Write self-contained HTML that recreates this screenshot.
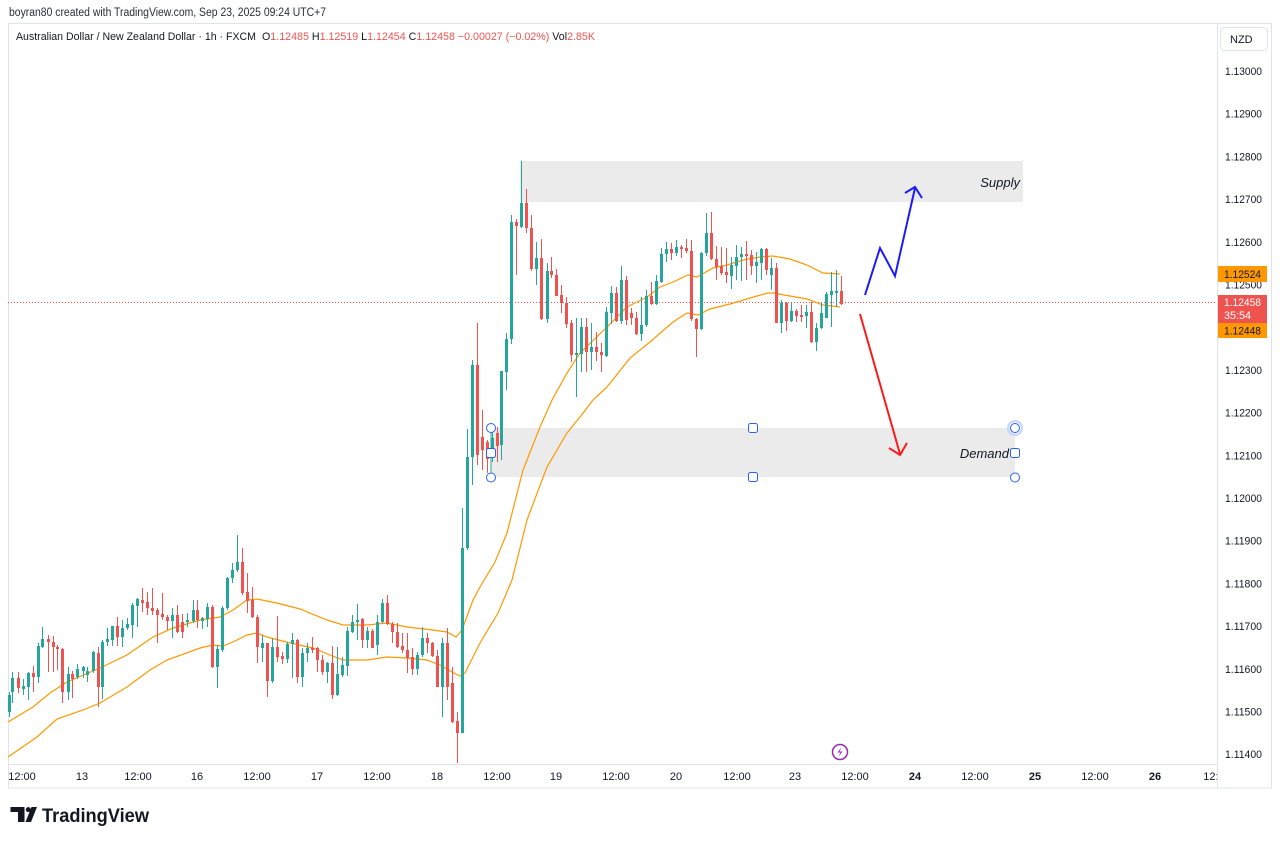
<!DOCTYPE html>
<html>
<head>
<meta charset="utf-8">
<style>
  html,body{margin:0;padding:0;background:#fff;}
  body{width:1280px;height:841px;overflow:hidden;}
  svg{display:block;}
  text{font-family:"Liberation Sans", Arial, sans-serif;}
</style>
</head>
<body>
<svg width="1280" height="841" viewBox="0 0 1280 841" xmlns="http://www.w3.org/2000/svg">
  <rect x="0" y="0" width="1280" height="841" fill="#ffffff"/>

  <!-- header -->
  <text x="9" y="16" font-size="11.5" fill="#2a2e39" textLength="317" lengthAdjust="spacingAndGlyphs">boyran80 created with TradingView.com, Sep 23, 2025 09:24 UTC+7</text>

  <!-- frame -->
  <rect x="8.5" y="23.5" width="1263" height="764.5" fill="none" stroke="#e0e3eb" stroke-width="1"/>
  <line x1="1217.5" y1="24" x2="1217.5" y2="788" stroke="#e0e3eb" stroke-width="1"/>
  <line x1="8" y1="764.5" x2="1217" y2="764.5" stroke="#e0e3eb" stroke-width="1"/>

  <!-- legend -->
  <text x="16" y="40" font-size="11" fill="#131722" textLength="240" lengthAdjust="spacingAndGlyphs">Australian Dollar / New Zealand Dollar · 1h · FXCM</text>
  <text x="262" y="40" font-size="11" fill="#131722" textLength="333" lengthAdjust="spacingAndGlyphs">O<tspan fill="#ef5350">1.12485</tspan>  H<tspan fill="#ef5350">1.12519</tspan>  L<tspan fill="#ef5350">1.12454</tspan>  C<tspan fill="#ef5350">1.12458</tspan>  <tspan fill="#ef5350">−0.00027 (−0.02%)</tspan>  Vol<tspan fill="#ef5350">2.85K</tspan></text>

  <!-- zones -->
  <rect x="520" y="161" width="503" height="41" fill="#ebebeb"/>
  <rect x="491" y="428" width="524" height="49" fill="#ebebeb"/>
  <text x="1020" y="187" font-size="13" font-style="italic" fill="#131722" text-anchor="end">Supply</text>
  <text x="1009" y="458" font-size="13" font-style="italic" fill="#131722" text-anchor="end">Demand</text>

  <!-- current price line -->
  <line x1="8" y1="302.5" x2="1217" y2="302.5" stroke="#ef5350" stroke-width="1" stroke-dasharray="1,2"/>

  <!-- moving averages -->
  <polyline fill="none" stroke="#ff9800" stroke-width="1.2" points="8,722 33,707 50,693 67,682 100,668 127,655 153,637 173,628 200,620 220,617 233,610 247,600 257,599 277,603 300,609 327,620 343,625 367,625 387,623 407,627 433,630 447,632 456,637 462,630 473,600 480,587 495,562 507,533 523,470 540,427 552,400 567,373 580,353 607,327 627,307 647,297 660,287 673,282 688,275 697,277 713,268 727,265 743,260 760,257 773,256 790,259 807,265 823,273 840,274"/>
  <polyline fill="none" stroke="#ff9800" stroke-width="1.2" points="8,757 37,737 57,719 83,710 100,703 127,687 150,670 167,660 200,648 213,645 223,646 233,642 247,635 257,633 267,637 290,643 313,648 330,655 343,660 367,660 387,657 407,658 427,660 440,665 452,672 460,676 465,673 480,643 498,613 512,580 527,520 547,467 567,433 580,417 593,400 607,387 630,358 650,342 673,322 687,313 698,315 710,309 730,304 750,298 768,293 773,293 790,296 807,299 823,305 840,307"/>

  <!-- candles: green -->
  <path fill="none" stroke="#26a69a" stroke-width="1" d="M9.5 692V717M12.5 672V703M23.5 679V695M28.5 672V700M38.5 643V683M42.5 627V648M68.5 667V700M77.5 664V679M83.5 666V678M87.5 667V682M93.5 651V673M102.5 640V699M107.5 628V646M112.5 626V646M122.5 620V647M127.5 618V630M132.5 603V638M137.5 598V627M172.5 608V638M187.5 613V627M193.5 600V623M202.5 617V629M207.5 603V627M217.5 645V688M222.5 606V652M227.5 577V610M232.5 563V583M237.5 535V572M262.5 635V662M272.5 638V683M287.5 642V663M292.5 633V678M302.5 648V687M307.5 643V662M327.5 662V683M337.5 647V696M342.5 657V677M347.5 627V676M352.5 615V633M357.5 604V640M367.5 627V648M377.5 615V655M382.5 599V623M417.5 652V675M422.5 627V657M442.5 638V717M462.5 508V733M467.5 429V550M472.5 360V485M492.5 430V462M501.5 371V460M506.5 333V390M511.5 215V344M521.5 161V228M536.5 242V285M547.5 263V323M576.5 318V397M581.5 318V372M591.5 323V370M606.5 307V357M611.5 286V324M621.5 266V324M641.5 297V341M646.5 290V327M656.5 275V305M661.5 248V283M666.5 242V262M676.5 240V256M701.5 252V330M706.5 213V256M731.5 257V289M736.5 245V280M741.5 247V281M756.5 252V283M761.5 248V280M771.5 258V290M781.5 300V333M791.5 303V322M806.5 305V328M816.5 323V351M821.5 303V329M826.5 292V318M831.5 272V327M836.5 270V307"/>
  <path fill="none" stroke="#26a69a" stroke-width="3" d="M9.5 695V712M12.5 678V692M23.5 686V689M28.5 673V687M38.5 646V677M42.5 639V647M68.5 674V692M77.5 669V677M83.5 667V671M87.5 671V675M93.5 652V671M102.5 642V687M107.5 639V642M112.5 626V640M122.5 628V637M127.5 624V628M132.5 605V625M137.5 599V606M172.5 615V621M187.5 620V622M193.5 610V621M202.5 618V621M207.5 607V619M217.5 649V667M222.5 608V650M227.5 578V608M232.5 570V578M237.5 562V570M262.5 643V648M272.5 647V681M287.5 644V659M292.5 640V644M302.5 653V677M307.5 648V653M327.5 663V672M337.5 674V695M342.5 665V675M347.5 631V666M352.5 622V632M357.5 620V622M367.5 631V640M377.5 622V645M382.5 603V622M417.5 655V669M422.5 638V655M442.5 643V687M462.5 548V733M467.5 457V548M472.5 365V457M492.5 438V450M501.5 371V445M506.5 339V372M511.5 222V339M521.5 203V227M536.5 258V269M547.5 271V319M576.5 353V355M581.5 327V354M591.5 347V352M606.5 312V356M611.5 293V313M621.5 280V321M641.5 325V334M646.5 296V325M656.5 281V304M661.5 254V282M666.5 249V254M676.5 247V253M701.5 253V329M706.5 233V253M731.5 265V276M736.5 257V266M741.5 254V257M756.5 262V266M761.5 249V263M771.5 268V275M781.5 303V323M791.5 311V321M806.5 312V316M816.5 328V342M821.5 313V328M826.5 294V318M831.5 291V295M836.5 291V293"/>

  <!-- candles: red -->
  <path fill="none" stroke="#ef5350" stroke-width="1" d="M18.5 672V693M33.5 666V692M48.5 635V672M53.5 636V672M57.5 645V670M62.5 648V703M72.5 671V698M98.5 647V707M117.5 617V646M142.5 588V612M147.5 592V615M152.5 588V615M157.5 608V643M162.5 593V620M167.5 615V630M177.5 605V633M182.5 614V638M197.5 600V628M212.5 605V668M242.5 548V595M247.5 573V613M252.5 587V618M257.5 615V663M267.5 643V697M277.5 616V662M282.5 652V664M297.5 639V683M312.5 637V653M317.5 647V672M322.5 655V675M332.5 646V699M362.5 618V648M372.5 629V648M387.5 595V625M392.5 622V643M397.5 623V648M402.5 633V653M407.5 633V673M412.5 648V675M427.5 633V653M432.5 642V657M437.5 650V687M447.5 628V700M452.5 667V723M457.5 712V763M477.5 323V465M482.5 410V470M487.5 440V473M497.5 427V462M516.5 219V275M526.5 189V233M531.5 215V271M541.5 239V320M551.5 257V278M556.5 269V296M561.5 285V313M566.5 297V328M571.5 320V362M586.5 318V372M596.5 332V361M601.5 343V372M616.5 287V322M626.5 276V325M631.5 308V325M636.5 312V335M651.5 282V305M671.5 243V260M681.5 245V258M686.5 239V253M691.5 240V321M696.5 318V357M711.5 212V260M716.5 246V280M721.5 247V275M726.5 248V283M746.5 241V280M751.5 250V275M766.5 248V275M776.5 263V323M786.5 302V331M796.5 309V322M801.5 305V322M811.5 302V343M841.5 276V305"/>
  <path fill="none" stroke="#ef5350" stroke-width="3" d="M18.5 678V688M33.5 673V677M48.5 639V642M53.5 642V647M57.5 647V649M62.5 649V692M72.5 674V679M98.5 653V687M117.5 626V637M142.5 600V603M147.5 602V608M152.5 608V611M157.5 610V615M162.5 614V617M167.5 617V621M177.5 615V632M182.5 622V632M197.5 610V620M212.5 607V667M242.5 562V593M247.5 592V601M252.5 600V617M257.5 617V647M267.5 643V681M277.5 647V657M282.5 656V659M297.5 640V677M312.5 648V650M317.5 648V660M322.5 660V672M332.5 663V695M362.5 619V640M372.5 631V648M387.5 603V624M392.5 624V632M397.5 632V647M402.5 646V650M407.5 650V658M412.5 657V669M427.5 638V643M432.5 643V656M437.5 656V687M447.5 643V687M452.5 683V722M457.5 721V733M477.5 365V455M482.5 437V450M487.5 442V459M497.5 433V446M516.5 222V226M526.5 203V228M531.5 228V269M541.5 258V319M551.5 271V275M556.5 275V296M561.5 295V303M566.5 303V324M571.5 323V355M586.5 327V352M596.5 347V352M601.5 352V355M616.5 293V321M626.5 280V320M631.5 313V318M636.5 318V334M651.5 296V304M671.5 249V253M681.5 247V249M686.5 248V251M691.5 251V319M696.5 319V329M711.5 233V259M716.5 259V267M721.5 266V273M726.5 272V275M746.5 254V256M751.5 255V266M766.5 249V270M776.5 268V323M786.5 303V321M796.5 311V316M801.5 315V317M811.5 312V342M841.5 291V304"/>

  <!-- arrows -->
  <polyline fill="none" stroke="#1a1aff" stroke-width="2" stroke-linejoin="miter" points="865,295 880,248 895,276 915,188"/>
  <polyline fill="none" stroke="#1a1aff" stroke-width="2" points="905,193 915,187 922,198"/>
  <line x1="860" y1="314" x2="900" y2="454" stroke="#ff1a1a" stroke-width="2"/>
  <polyline fill="none" stroke="#ff1a1a" stroke-width="2" points="889,448 900,455 907,443"/>

  <!-- demand handles -->
  <g fill="#ffffff" stroke="#2962ff" stroke-width="1">
    <line x1="491" y1="428" x2="491" y2="477" stroke="#26a69a"/>
    <circle cx="491" cy="428" r="4.5"/>
    <rect x="486.5" y="448.5" width="9" height="9" rx="2"/>
    <circle cx="491" cy="477.5" r="4.5"/>
    <rect x="748.5" y="423.5" width="9" height="9" rx="2"/>
    <rect x="748.5" y="472.5" width="9" height="9" rx="2"/>
    <circle cx="1015" cy="428" r="7" fill="none" stroke="#c5d3ff" stroke-width="2"/>
    <circle cx="1015" cy="428" r="4.5"/>
    <rect x="1010.5" y="448.5" width="9" height="9" rx="2"/>
    <circle cx="1015" cy="477.5" r="4.5"/>
  </g>

  <!-- lightning icon -->
  <circle cx="840" cy="752" r="7.5" fill="#ffffff" stroke="#9c27b0" stroke-width="1.5"/>
  <path d="M841.5 747 L837.5 752.5 L840.5 752.5 L838.5 757 L842.5 751.5 L839.5 751.5 Z" fill="#9c27b0"/>

  <!-- price axis -->
  <rect x="1220.5" y="27.5" width="47" height="23" rx="4" fill="#ffffff" stroke="#e0e3eb"/>
  <text x="1230" y="43" font-size="11" fill="#131722">NZD</text>
  <g font-size="11" fill="#131722">
    <text x="1225" y="75" textLength="37" lengthAdjust="spacingAndGlyphs">1.13000</text>
    <text x="1225" y="117.7" textLength="37" lengthAdjust="spacingAndGlyphs">1.12900</text>
    <text x="1225" y="160.4" textLength="37" lengthAdjust="spacingAndGlyphs">1.12800</text>
    <text x="1225" y="203.1" textLength="37" lengthAdjust="spacingAndGlyphs">1.12700</text>
    <text x="1225" y="245.8" textLength="37" lengthAdjust="spacingAndGlyphs">1.12600</text>
    <text x="1225" y="288.5" textLength="37" lengthAdjust="spacingAndGlyphs">1.12500</text>
    <text x="1225" y="373.9" textLength="37" lengthAdjust="spacingAndGlyphs">1.12300</text>
    <text x="1225" y="416.6" textLength="37" lengthAdjust="spacingAndGlyphs">1.12200</text>
    <text x="1225" y="459.3" textLength="37" lengthAdjust="spacingAndGlyphs">1.12100</text>
    <text x="1225" y="502" textLength="37" lengthAdjust="spacingAndGlyphs">1.12000</text>
    <text x="1225" y="544.7" textLength="37" lengthAdjust="spacingAndGlyphs">1.11900</text>
    <text x="1225" y="587.4" textLength="37" lengthAdjust="spacingAndGlyphs">1.11800</text>
    <text x="1225" y="630.1" textLength="37" lengthAdjust="spacingAndGlyphs">1.11700</text>
    <text x="1225" y="672.8" textLength="37" lengthAdjust="spacingAndGlyphs">1.11600</text>
    <text x="1225" y="715.5" textLength="37" lengthAdjust="spacingAndGlyphs">1.11500</text>
    <text x="1225" y="758.2" textLength="37" lengthAdjust="spacingAndGlyphs">1.11400</text>
  </g>
  <!-- price tags -->
  <rect x="1218" y="266" width="49" height="16" fill="#ff9800"/>
  <text x="1224" y="278" font-size="11" fill="#131722" textLength="37" lengthAdjust="spacingAndGlyphs">1.12524</text>
  <rect x="1218" y="295" width="49" height="28" fill="#ef5350"/>
  <text x="1224" y="306" font-size="11" fill="#ffffff" textLength="37" lengthAdjust="spacingAndGlyphs">1.12458</text>
  <text x="1224" y="319" font-size="11" fill="#ffffff" textLength="27" lengthAdjust="spacingAndGlyphs">35:54</text>
  <rect x="1218" y="323" width="49" height="15" fill="#ff9800"/>
  <text x="1224" y="334.5" font-size="11" fill="#131722" textLength="37" lengthAdjust="spacingAndGlyphs">1.12448</text>

  <!-- time axis -->
  <defs><clipPath id="tclip"><rect x="8" y="765" width="1209" height="23"/></clipPath></defs>
  <g font-size="11" fill="#131722" text-anchor="middle" clip-path="url(#tclip)">
    <text x="22" y="780">12:00</text>
    <text x="82" y="780">13</text>
    <text x="138" y="780">12:00</text>
    <text x="197" y="780">16</text>
    <text x="257" y="780">12:00</text>
    <text x="317" y="780">17</text>
    <text x="377" y="780">12:00</text>
    <text x="437" y="780">18</text>
    <text x="497" y="780">12:00</text>
    <text x="556" y="780">19</text>
    <text x="616" y="780">12:00</text>
    <text x="676" y="780">20</text>
    <text x="737" y="780">12:00</text>
    <text x="795" y="780">23</text>
    <text x="855" y="780">12:00</text>
    <text x="915" y="780" font-weight="bold">24</text>
    <text x="975" y="780">12:00</text>
    <text x="1035" y="780" font-weight="bold">25</text>
    <text x="1095" y="780">12:00</text>
    <text x="1155" y="780" font-weight="bold">26</text>
    <text x="1217" y="780">12:00</text>
  </g>

  <!-- TradingView logo -->
  <g fill="#131722">
    <rect x="10.5" y="807" width="14" height="5"/>
    <rect x="18" y="807" width="6.5" height="15"/>
    <circle cx="28.3" cy="809.6" r="2.5"/>
    <polygon points="31.5,807 37,807 31,822 25.5,822"/>
  </g>
  <text x="42" y="822" font-size="19.5" font-weight="bold" fill="#131722" textLength="107" lengthAdjust="spacingAndGlyphs">TradingView</text>
</svg>
</body>
</html>
